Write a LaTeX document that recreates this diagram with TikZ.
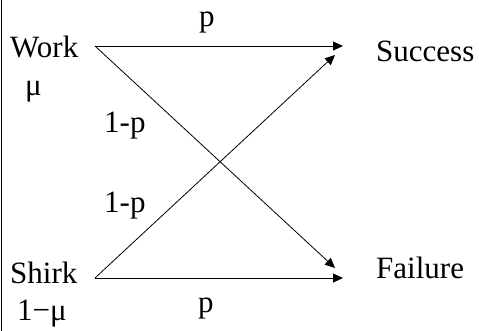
\documentclass[tikz,border=0pt]{standalone}
\usepackage{fontspec}
\setmainfont{Liberation Serif}
\usetikzlibrary{arrows.meta}
\begin{document}
\begin{tikzpicture}[x=1pt,y=-1pt,
  lbl/.style={anchor=base west,inner sep=0pt,font=\fontsize{31}{36}\selectfont},
  arr/.style={line width=0.8pt,-{Triangle[length=10pt,width=9pt]}}]
\useasboundingbox (0,0) rectangle (479,331);
\draw[line width=1.6pt] (1.5,0) -- (1.5,331);
\node[lbl] (work) at (10,58) {Work};
\node[lbl] (mu) at (25,96) {μ};
\node[lbl] (shirk) at (10,283) {Shirk};
\node[lbl] (omu) at (17,320) {1−μ};
\node[lbl] (succ) at (376,62) {Success};
\node[lbl] (fail) at (376,278) {Failure};
\node[lbl] (p1) at (199,27) {p};
\node[lbl] (q1) at (104,133) {1-p};
\node[lbl] (q2) at (104,213) {1-p};
\node[lbl] (p2) at (198,312) {p};
\coordinate (ws) at (95,46);
\coordinate (ss) at (95,278);
\coordinate (ts) at (343,46);
\coordinate (tf) at (343,278);
\coordinate (ds) at (335,55);
\coordinate (df) at (335,268);
\draw[arr] (ws) -- (ts);
\draw[arr] (ws) -- (df);
\draw[arr] (ss) -- (tf);
\draw[arr] (ss) -- (ds);
\end{tikzpicture}
\end{document}
